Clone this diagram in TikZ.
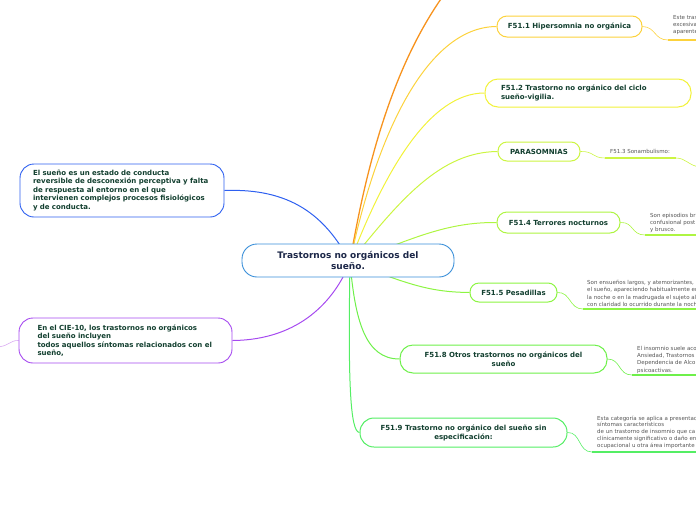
\documentclass[tikz,border=0pt]{standalone}
\usepackage{fontspec}
\setmainfont{DejaVu Sans}
\usepackage{xcolor}
\usetikzlibrary{backgrounds}
\definecolor{hubblue}{HTML}{3A8FD9}
\definecolor{hubtext}{HTML}{1C2748}
\definecolor{leaftext}{HTML}{123F2F}
\definecolor{notegray}{HTML}{555555}
\definecolor{cOrange}{HTML}{F7931E}
\definecolor{cGold}{HTML}{FCD23C}
\definecolor{cYellow}{HTML}{F2F23A}
\definecolor{cLime}{HTML}{CCF542}
\definecolor{cLime2}{HTML}{AEF542}
\definecolor{cGreen}{HTML}{8CF542}
\definecolor{cGreen2}{HTML}{6EF04A}
\definecolor{cGreen3}{HTML}{54EE64}
\definecolor{cBlue}{HTML}{2E60F0}
\definecolor{cPurple}{HTML}{A64AF0}
\definecolor{cLilac}{HTML}{D9A8F2}

\begin{document}
\begin{tikzpicture}[x=1pt, y=-1pt,
    hubbox/.style={draw=hubblue, fill=white, line width=0.9pt, rounded corners=15pt, text=hubtext,
      font=\bfseries\fontsize{9}{11}\selectfont, align=center, inner sep=0pt},
    topic/.style={draw, fill=white, line width=1pt, rounded corners=10pt, text=leaftext,
      font=\bfseries\fontsize{7}{9}\selectfont, align=center, inner sep=0pt},
    sidetopic/.style={draw, fill=white, line width=0.9pt, rounded corners=14pt, text=leaftext,
      font=\bfseries\fontsize{7}{8.5}\selectfont, align=left},
    note/.style={anchor=north west, inner sep=0pt, align=left, text=notegray,
      font=\fontsize{5.5}{7.3}\selectfont},
    link/.style={line width=1pt},
    twig/.style={line width=0.6pt},
    rule/.style={line width=1.8pt}]
  \clip (0,0) rectangle (696,520);

  \node[hubbox, minimum width=212pt, minimum height=33pt] (hub) at (348,260.5) {Trastornos no orgánicos del\\sueño.};
  \coordinate (root) at (350,262);

  \node[sidetopic, draw=cBlue, text width=178pt, inner xsep=13pt, minimum height=53pt] (def) at (122,190.5)
    {El sueño es un estado de conducta\\reversible de desconexión perceptiva y falta\\de respuesta al entorno en el que\\intervienen complejos procesos fisiológicos\\y de conducta.};
  \node[sidetopic, draw=cPurple, text width=176pt, inner xsep=18.5pt, minimum height=45pt] (cie) at (125.5,340.5)
    {En el CIE-10, los trastornos no orgánicos\\del sueño incluyen\\todos aquellos síntomas relacionados con el\\sueño,};

  \node[topic, draw=cGold, minimum width=145pt, minimum height=21pt] (hiper) at (569.5,26.5) {F51.1 Hipersomnia no orgánica};
  \node[topic, draw=cYellow, align=left, text width=174pt, inner xsep=16pt, minimum height=28pt, rounded corners=13pt] (ciclo) at (588,93) {F51.2 Trastorno no orgánico del ciclo\\sueño-vigilia.};
  \node[topic, draw=cLime, minimum width=82pt, minimum height=19pt, rounded corners=9pt] (para) at (539,151.5) {PARASOMNIAS};
  \node[topic, draw=cLime2, minimum width=123pt, minimum height=21pt] (terror) at (558.5,222.5) {F51.4 Terrores nocturnos};
  \node[topic, draw=cGreen, minimum width=87pt, minimum height=19pt, rounded corners=9pt] (pesa) at (513.5,292.5) {F51.5 Pesadillas};
  \node[topic, draw=cGreen2, minimum width=207pt, minimum height=28pt, rounded corners=13pt] (otros) at (503.5,359) {F51.8 Otros trastornos no orgánicos del\\sueño};
  \node[topic, draw=cGreen3, minimum width=207pt, minimum height=29pt, rounded corners=14pt] (nos) at (463.5,432.5) {F51.9 Trastorno no orgánico del sueño sin\\especificación:};

  \node[note] (n1) at (673,15) {Este tras\\excesiva\\aparente};
  \node[note, anchor=west] (n3) at (610,151.5) {F51.3 Sonambulismo:};
  \node[note] (n4) at (650,213) {Son episodios br\\confusional post\\y brusco.};
  \node[note] (n5) at (587,280) {Son ensueños largos, y atemorizantes,\\el sueño, apareciendo habitualmente en\\la noche o en la madrugada el sujeto al\\con claridad lo ocurrido durante la noch};
  \node[note] (n8) at (637,346) {El insomnio suele aco\\Ansiedad, Trastornos\\Dependencia de Alcoh\\psicoactivas.};
  \node[note, font=\fontsize{5.5}{6.8}\selectfont] (n9) at (597,415.5) {Esta categoría se aplica a presentac\\síntomas característicos\\ de un trastorno de insomnio que ca\\clínicamente significativo o daño en\\ocupacional u otra área importante};

  \coordinate (away) at (443,-4);
  \coordinate (away2) at (-4,347);
  \coordinate (r1a) at (668,40);   \coordinate (r1b) at (700,40);
  \coordinate (r3a) at (605,158);  \coordinate (r3b) at (676,158);  \coordinate (away3) at (700,167);
  \coordinate (r4a) at (645,235);  \coordinate (r4b) at (700,235);
  \coordinate (r5a) at (583,309);  \coordinate (r5b) at (700,309);
  \coordinate (r8a) at (632,375);  \coordinate (r8b) at (700,375);
  \coordinate (r9a) at (592,452);  \coordinate (r9b) at (700,452);

  \begin{scope}[on background layer]
    \draw[link, cOrange, line width=1.3pt] (root) .. controls (372,130) and (405,50) .. (away);
    \draw[link, cGold] (root) .. controls (375,140) and (425,27) .. (hiper.west);
    \draw[link, cYellow] (root) .. controls (385,170) and (430,93) .. (ciclo.west);
    \draw[link, cLime] (root) .. controls (400,200) and (440,152) .. (para.west);
    \draw[link, cLime2] (root) .. controls (410,240) and (445,222) .. (terror.west);
    \draw[link, cGreen] (root) .. controls (410,285) and (430,292) .. (pesa.west);
    \draw[link, cGreen2] (root) .. controls (355,320) and (365,359) .. (otros.west);
    \draw[link, cGreen3] (root) .. controls (348,380) and (350,432) .. (nos.west);
    \draw[link, cBlue] (def.east) .. controls (290,188) and (325,215) .. (root);
    \draw[link, cPurple] (cie.east) .. controls (300,340) and (335,300) .. (root);
    \draw[twig, cLilac] (cie.west) .. controls (10,340) and (8,347) .. (away2);
  \end{scope}

  \draw[twig, cGold] (hiper.east) .. controls (656,27) and (654,40) .. (r1a);
  \draw[rule, cGold] (r1a) -- (r1b);
  \draw[twig, cLime] (para.east) .. controls (594,151) and (592,158) .. (r3a);
  \draw[rule, cLime] (r3a) -- (r3b);
  \draw[twig, cLime] (r3b) .. controls (686,158) and (689,166) .. (away3);
  \draw[twig, cLime2] (terror.east) .. controls (634,222) and (631,235) .. (r4a);
  \draw[rule, cLime2] (r4a) -- (r4b);
  \draw[twig, cGreen] (pesa.east) .. controls (571,292) and (569,309) .. (r5a);
  \draw[rule, cGreen] (r5a) -- (r5b);
  \draw[twig, cGreen2] (otros.east) .. controls (621,359) and (618,375) .. (r8a);
  \draw[rule, cGreen2] (r8a) -- (r8b);
  \draw[twig, cGreen3] (nos.east) .. controls (581,432) and (578,452) .. (r9a);
  \draw[rule, cGreen3] (r9a) -- (r9b);
\end{tikzpicture}
\end{document}
